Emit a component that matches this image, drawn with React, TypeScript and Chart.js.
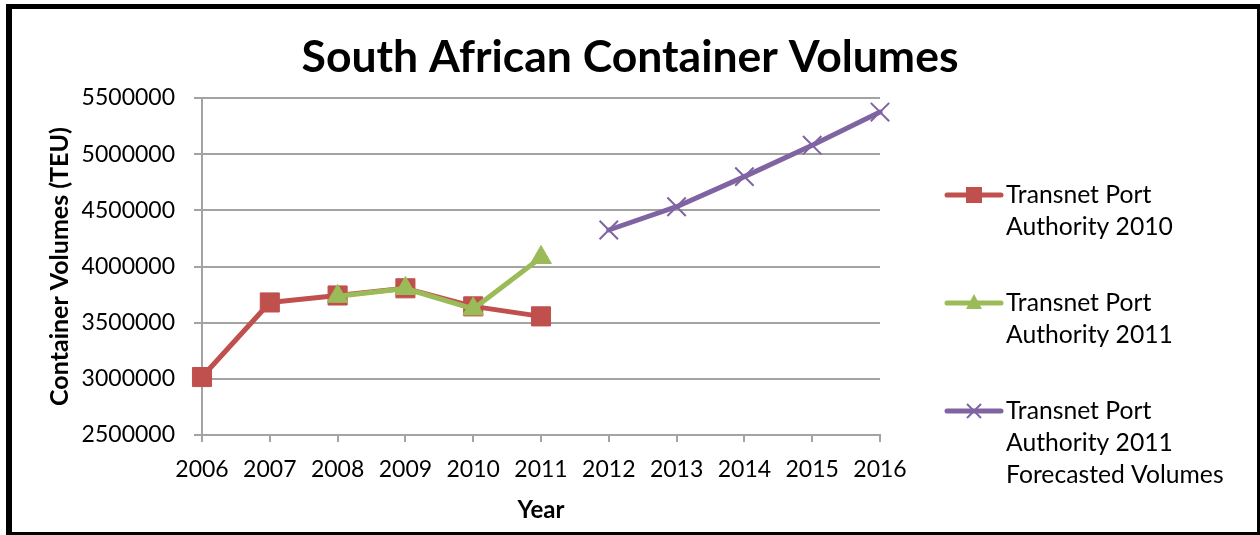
import React, { useEffect, useRef } from "react";
import { Chart, registerables } from "chart.js";

Chart.register(...registerables);

const years = ["2006", "2007", "2008", "2009", "2010", "2011", "2012", "2013", "2014", "2015", "2016"];
const tpa2010 = [3016000, 3680000, 3742000, 3806000, 3645000, 3556000, null, null, null, null, null];
const tpa2011 = [null, null, 3735000, 3804000, 3622000, 4080000, null, null, null, null, null];
const tpa2011Forecast = [null, null, null, null, null, null, 4325000, 4532000, 4800000, 5080000, 5375000];
const seriesLabels = [
  ["Transnet Port", "Authority 2010"],
  ["Transnet Port", "Authority 2011"],
  ["Transnet Port", "Authority 2011", "Forecasted Volumes"],
];
const yMin = 2500000;
const yMax = 5500000;
const yStep = 500000;

const RED = "#C0504D";
const GREEN = "#9BBB59";
const PURPLE = "#8064A2";
const GRID = "#a3a3a3";
const FONT = "Lato, 'Open Sans', sans-serif";

function drawMarker(ctx: CanvasRenderingContext2D, style: string, x: number, y: number, color: string) {
  ctx.save();
  ctx.fillStyle = color;
  ctx.strokeStyle = color;
  if (style === "rect") {
    ctx.fillRect(x - 8, y - 8, 16, 16);
  } else if (style === "triangle") {
    ctx.beginPath();
    ctx.moveTo(x, y - 9);
    ctx.lineTo(x + 8, y + 6);
    ctx.lineTo(x - 8, y + 6);
    ctx.closePath();
    ctx.fill();
  } else if (style === "crossRot") {
    ctx.lineWidth = 2;
    ctx.beginPath();
    ctx.moveTo(x - 7, y - 7);
    ctx.lineTo(x + 7, y + 7);
    ctx.moveTo(x + 7, y - 7);
    ctx.lineTo(x - 7, y + 7);
    ctx.stroke();
  }
  ctx.restore();
}

const legendPlugin = {
  id: "sideLegend",
  afterDraw(chart: any) {
    const ctx: CanvasRenderingContext2D = chart.ctx;
    const area = chart.chartArea;
    const x0 = area.right + 67;
    const y0 = area.top + 97;
    const itemGap = 108;
    const lineGap = 32;
    chart.data.datasets.forEach((ds: any, i: number) => {
      const y = y0 + i * itemGap;
      ctx.save();
      ctx.strokeStyle = ds.borderColor;
      ctx.lineWidth = 5;
      ctx.lineCap = "round";
      ctx.beginPath();
      ctx.moveTo(x0, y);
      ctx.lineTo(x0 + 54, y);
      ctx.stroke();
      ctx.restore();
      drawMarker(ctx, ds.pointStyle, x0 + 27, y, ds.borderColor);
      ctx.save();
      ctx.fillStyle = "#000";
      ctx.font = `24.7px ${FONT}`;
      ctx.textAlign = "left";
      ctx.textBaseline = "alphabetic";
      const lines: string[] = seriesLabels[i];
      lines.forEach((t, k) => {
        ctx.fillText(t, x0 + 59, y + 8 + k * lineGap);
      });
      ctx.restore();
    });
  },
};

export default function App() {
  const ref = useRef<HTMLCanvasElement | null>(null);

  useEffect(() => {
    let chart: Chart | null = null;
    let cancelled = false;
    const make = () => {
      if (cancelled || !ref.current) return;
      chart = new Chart(ref.current, {
        type: "line",
        data: {
          labels: years,
          datasets: [
            {
              label: seriesLabels[0].join(" "),
              data: tpa2010,
              order: 2,
              borderColor: RED,
              backgroundColor: RED,
              borderWidth: 5,
              pointStyle: "rect",
              pointRadius: 13.5,
              pointBorderWidth: 1,
              pointBackgroundColor: RED,
              pointBorderColor: RED,
              borderCapStyle: "round",
              borderJoinStyle: "round",
              tension: 0,
              yAxisID: "y",
            },
            {
              label: seriesLabels[1].join(" "),
              data: tpa2011,
              order: 1,
              borderColor: GREEN,
              backgroundColor: GREEN,
              borderWidth: 5,
              pointStyle: "triangle",
              pointRadius: 12,
              pointBorderWidth: 1,
              pointBackgroundColor: GREEN,
              pointBorderColor: GREEN,
              borderCapStyle: "round",
              borderJoinStyle: "round",
              tension: 0,
              yAxisID: "y",
            },
            {
              label: seriesLabels[2].join(" "),
              data: tpa2011Forecast,
              order: 0,
              borderColor: PURPLE,
              backgroundColor: PURPLE,
              borderWidth: 5,
              pointStyle: "crossRot",
              pointRadius: 13,
              pointBorderWidth: 2,
              pointBackgroundColor: PURPLE,
              pointBorderColor: PURPLE,
              borderCapStyle: "round",
              borderJoinStyle: "round",
              tension: 0,
              yAxisID: "y",
            },
          ] as any,
        },
        options: {
          responsive: false,
          animation: false,
          devicePixelRatio: 1,
          layout: { padding: { left: 0, right: 0, top: 0, bottom: 0 } },
          plugins: {
            legend: { display: false },
            tooltip: { enabled: false },
            title: {
              display: true,
              text: "South African Container Volumes",
              color: "#000",
              font: { family: FONT, size: 44.5, weight: "bold", lineHeight: 1.2 },
              padding: { top: 31.3, bottom: 13.3 },
            },
          },
          scales: {
            x: {
              type: "category",
              offset: false,
              grid: {
                display: true,
                drawOnChartArea: false,
                drawTicks: true,
                tickLength: 7,
                color: GRID,
                lineWidth: 2,
              },
              border: { display: true, color: GRID, width: 2 },
              ticks: {
                color: "#000",
                font: { family: FONT, size: 23 },
                padding: 14,
                maxRotation: 0,
                autoSkip: false,
              },
              title: {
                display: true,
                text: "Year",
                color: "#000",
                font: { family: FONT, size: 24, weight: "bold" },
                padding: { top: 4, bottom: 10 },
              },
              afterFit: (scale: any) => {
                scale.height = 100;
              },
            },
            y: {
              type: "linear",
              position: "left",
              min: yMin,
              max: yMax,
              grid: {
                color: GRID,
                lineWidth: 2,
                tickLength: 8,
              },
              border: { display: true, color: GRID, width: 2 },
              ticks: {
                stepSize: yStep,
                color: "#000",
                font: { family: FONT, size: 23 },
                padding: 19,
                callback: (v: any) => String(v),
              },
              title: {
                display: true,
                text: "Container Volumes (TEU)",
                color: "#000",
                font: { family: FONT, size: 25, weight: "bold" },
                padding: { top: 45, bottom: 4 },
              },
              afterFit: (scale: any) => {
                scale.width = 202;
              },
            },
            legendSpace: {
              type: "linear",
              position: "right",
              display: true,
              grid: { display: false, drawTicks: false },
              border: { display: false },
              ticks: { display: false },
              afterFit: (scale: any) => {
                scale.width = 380;
              },
            },
          },
        } as any,
        plugins: [legendPlugin],
      });
    };
    const fontsReady = (document as any).fonts
      ? Promise.all([
          (document as any).fonts.load(`23px Lato`),
          (document as any).fonts.load(`bold 42px Lato`),
        ]).catch(() => null)
      : Promise.resolve(null);
    fontsReady.then(make);
    return () => {
      cancelled = true;
      if (chart) chart.destroy();
    };
  }, []);

  return (
    <div style={{ position: "fixed", left: 0, top: 0, width: 1260, height: 535, background: "#fff" }}>
      <canvas ref={ref} width={1260} height={535} style={{ position: "absolute", left: 0, top: 0, width: 1260, height: 535 }} />
      <div
        style={{
          position: "absolute",
          left: 6,
          top: 4,
          width: 1254,
          height: 531,
          boxSizing: "border-box",
          borderStyle: "solid",
          borderColor: "#000",
          borderTopWidth: 5,
          borderLeftWidth: 6,
          borderRightWidth: 3,
          borderBottomWidth: 3,
          pointerEvents: "none",
        }}
      />
    </div>
  );
}
